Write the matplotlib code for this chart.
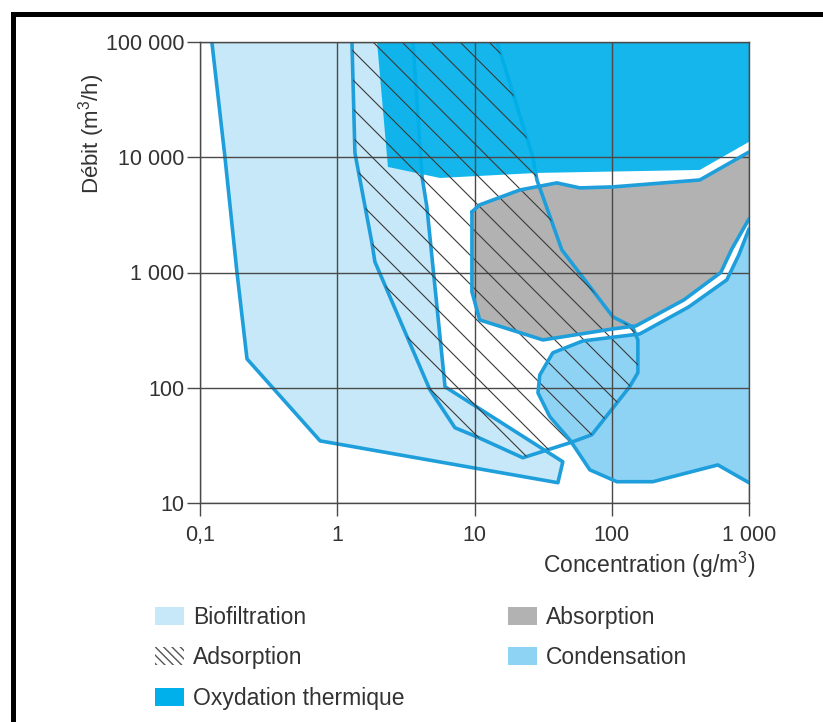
import numpy as np
import matplotlib.pyplot as plt
from matplotlib.patches import Polygon, Patch
from matplotlib.lines import Line2D
from matplotlib.ticker import FixedLocator, FixedFormatter, NullLocator

plt.rcParams['font.family'] = ['Liberation Sans', 'DejaVu Sans']
plt.rcParams['mathtext.fontset'] = 'custom'
plt.rcParams['mathtext.rm'] = 'Liberation Sans'
plt.rcParams['mathtext.it'] = 'Liberation Sans:italic'

# axes ticks
x_ticks = [0.1, 1, 10, 100, 1000]
x_ticklabels = ["0,1", "1", "10", "100", "1 000"]
y_ticks = [10, 100, 1000, 10000, 100000]
y_ticklabels = ["10", "100", "1 000", "10 000", "100 000"]

# domaines (concentration g/m3, debit m3/h)
bio_x = [0.122, 0.152, 0.186, 0.22, 0.75, 40.5, 44, 6.1, 4.5, 4.15, 3.56]
bio_y = [100000, 10000, 1000, 178, 34.6, 15, 22.8, 102, 3700, 6750, 100000]

ads_x = [1.28, 1.345, 1.79, 1.88, 4.73, 7.2, 10.4, 22.5, 49.5, 71.6, 135, 155, 155, 142, 102, 43.3, 28.5, 26.6, 14.6]
ads_y = [100000, 10900, 1800, 1240, 96, 45, 37.5, 24.7, 33.3, 39.1, 102, 135, 260, 337, 412, 1570, 6350, 10000, 100000]

oxy_x = [1.95, 2.34, 5.6, 28.5, 438, 1000, 1000]
oxy_y = [100000, 8240, 6610, 7310, 7760, 13600, 100000]

abs_x = [9.58, 10.9, 21.4, 39.8, 58.6, 102, 438, 1000, 1000, 750, 623, 335, 150, 102, 31.5, 10.9, 9.58]
abs_y = [3360, 3860, 5200, 5990, 5420, 5530, 6350, 11100, 2920, 1600, 1000, 578, 344, 324, 260, 388, 680]

cond_x = [1000, 843, 689, 364, 160, 61.6, 37.2, 29.9, 29.0, 35.4, 49.5, 69.2, 109, 199, 593, 1000]
cond_y = [2390, 1420, 863, 503, 293, 255, 201, 129, 90.3, 56, 35.3, 19.4, 15.3, 15.3, 21.4, 15]

c_bio = '#c7e8f8'
c_cond = '#8ed3f4'
c_oxy = '#00b0ea'
c_abs = '#b2b2b2'
c_line = '#1e9fdc'
c_text = '#333333'
c_grid = '#4a4a4a'


def outline(ax, xs, ys, z=3):
    # contour sans les bords confondus avec le cadre
    pts = list(zip(xs, ys)) + [(xs[0], ys[0])]
    X, Y = [pts[0][0]], [pts[0][1]]
    for (x0, y0), (x1, y1) in zip(pts[:-1], pts[1:]):
        if (x0 == x1 == 1000) or (y0 == y1 == 100000):
            X.append(np.nan)
            Y.append(np.nan)
        X.append(x1)
        Y.append(y1)
    ax.plot(X, Y, color=c_line, lw=2.6, zorder=z, solid_capstyle='round', solid_joinstyle='round')


fig = plt.figure(figsize=(8.23, 7.22), dpi=100)
ax = fig.add_axes([200/823, 219/722, 549/823, 461/722])
ax.set_xscale('log')
ax.set_yscale('log')
ax.set_xlim(0.1, 1000)
ax.set_ylim(10, 100000)

ax.add_patch(Polygon(np.column_stack([bio_x, bio_y]), closed=True, fc=c_bio, ec='none', zorder=1))
ax.add_patch(Polygon(np.column_stack([cond_x, cond_y]), closed=True, fc=c_cond, ec='none', zorder=1.1))
ax.add_patch(Polygon(np.column_stack([abs_x, abs_y]), closed=True, fc=c_abs, ec='none', zorder=1.2))
ax.add_patch(Polygon(np.column_stack([oxy_x, oxy_y]), closed=True, fc=c_oxy, ec='none',
                     alpha=0.92, zorder=1.3))

# hachures de l'adsorption
ads_clip = Polygon(np.column_stack([ads_x, ads_y]), closed=True, fc='none', ec='none')
ax.add_patch(ads_clip)
W, H = 549.0, 461.0
for c in np.arange(663 - 29 * 40, 663 + 29 * 40, 29):
    xa = np.array([0.0, W])
    ya = -xa + c
    ln, = ax.plot(xa / W, ya / H, transform=ax.transAxes, color='#3a3a3a', lw=0.8, zorder=2.8)
    ln.set_clip_path(ads_clip)

outline(ax, bio_x, bio_y, z=1.25)
outline(ax, ads_x, ads_y, z=1.26)
outline(ax, cond_x, cond_y)
outline(ax, abs_x, abs_y)

ax.set_axisbelow(False)
ax.grid(True, which='major', color=c_grid, lw=1.0)
for s in ax.spines.values():
    s.set_color(c_grid)
    s.set_linewidth(1.0)
    s.set_zorder(3.5)

ax.xaxis.set_major_locator(FixedLocator(x_ticks))
ax.xaxis.set_major_formatter(FixedFormatter(x_ticklabels))
ax.yaxis.set_major_locator(FixedLocator(y_ticks))
ax.yaxis.set_major_formatter(FixedFormatter(y_ticklabels))
ax.xaxis.set_minor_locator(NullLocator())
ax.yaxis.set_minor_locator(NullLocator())
ax.tick_params(axis='x', direction='out', length=9, width=1, color=c_grid, pad=7,
               labelsize=15.5, labelcolor=c_text)
ax.tick_params(axis='y', direction='out', length=9.5, width=1, color=c_grid, pad=1.5,
               labelsize=15.5, labelcolor=c_text)

ax.set_xlabel("Concentration (g/m$^3$)", fontsize=16.5, color=c_text, ha='right', va='center')
ax.xaxis.set_label_coords(1.012, -0.135)
ax.set_ylabel("Débit (m$^3$/h)", fontsize=16, color=c_text, va='center')
ax.yaxis.set_label_coords(-0.197, 0.801)

handles = [
    Patch(fc=c_bio, ec='none', label='Biofiltration'),
    Patch(fc='white', ec='#555555', lw=0, hatch='\\\\\\\\', label='Adsorption'),
    Patch(fc=c_oxy, ec='none', label='Oxydation thermique'),
    Patch(fc=c_abs, ec='none', label='Absorption'),
    Patch(fc=c_cond, ec='none', label='Condensation'),
]
leg = fig.legend(handles=handles, ncol=2, loc='upper left', bbox_to_anchor=(155/823, 1 - 606/722),
                 bbox_transform=fig.transFigure, frameon=False, fontsize=16.5,
                 handlelength=1.27, handleheight=0.83, handletextpad=0.4,
                 columnspacing=4.5, labelspacing=0.76, borderpad=0, borderaxespad=0)
for t in leg.get_texts():
    t.set_color(c_text)

# cadre noir
fig.add_artist(Line2D([13/823, 13/823], [0, 1 - 14/722], transform=fig.transFigure,
                      color='black', lw=3.6, solid_capstyle='projecting'))
fig.add_artist(Line2D([13/823, 1], [1 - 14/722, 1 - 14/722], transform=fig.transFigure,
                      color='black', lw=3.6, solid_capstyle='projecting'))

fig.savefig('out.png', dpi=100, facecolor='white')
